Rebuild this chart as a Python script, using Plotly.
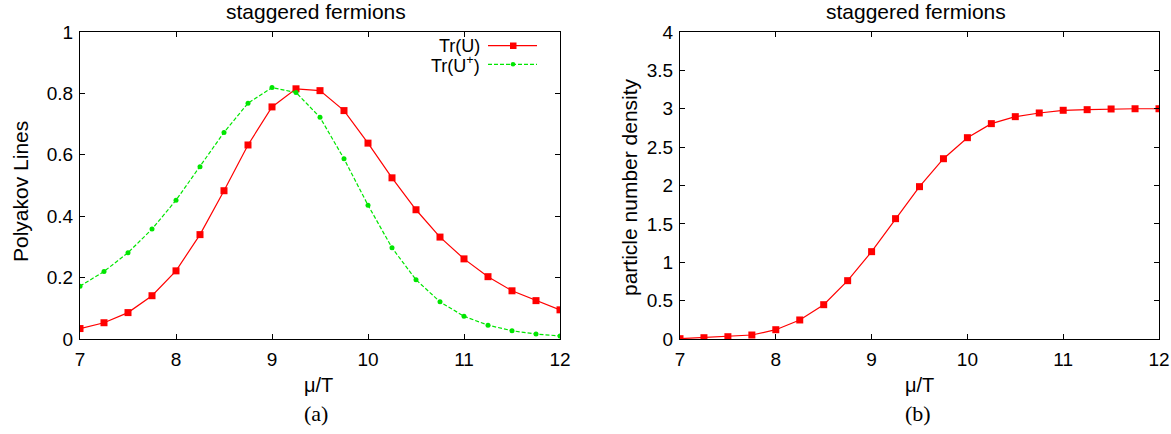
import plotly.graph_objects as go

W, H = 1171, 434

# chemical potential grid
mu_T = [7.0, 7.25, 7.5, 7.75, 8.0, 8.25, 8.5, 8.75, 9.0, 9.25, 9.5,
        9.75, 10.0, 10.25, 10.5, 10.75, 11.0, 11.25, 11.5, 11.75, 12.0]

# Polyakov line expectation values
tr_u = [0.034, 0.053, 0.086, 0.141, 0.222, 0.340, 0.483, 0.632, 0.756, 0.815, 0.809,
        0.744, 0.638, 0.525, 0.421, 0.332, 0.261, 0.203, 0.157, 0.125, 0.095]
tr_u_dag = [0.172, 0.220, 0.281, 0.358, 0.452, 0.561, 0.673, 0.768, 0.819, 0.803, 0.722,
            0.587, 0.436, 0.297, 0.193, 0.121, 0.074, 0.045, 0.027, 0.016, 0.010]

# particle number density
density = [0.004, 0.017, 0.030, 0.052, 0.121, 0.248, 0.447, 0.760, 1.138, 1.568, 1.985,
           2.349, 2.623, 2.806, 2.897, 2.945, 2.980, 2.988, 2.997, 3.000, 3.000]

x_ticks = [7, 8, 9, 10, 11, 12]
y1_ticks = [0, 0.2, 0.4, 0.6, 0.8, 1]
y1_labels = ["0", "0.2", "0.4", "0.6", "0.8", "1"]
y2_ticks = [0, 0.5, 1, 1.5, 2, 2.5, 3, 3.5, 4]
y2_labels = ["0", "0.5", "1", "1.5", "2", "2.5", "3", "3.5", "4"]

RED = "#ff0000"
GREEN = "#00e600"
SANS = "Liberation Sans, Arial, sans-serif"
SERIF = "Liberation Serif, Times New Roman, serif"


def px(x):
    return x / W


def py(y):
    return 1 - y / H


fig = go.Figure()

fig.add_trace(go.Scatter(
    x=mu_T, y=tr_u, mode="lines+markers", name="Tr(U)",
    line=dict(color=RED, width=1.2),
    marker=dict(symbol="square", size=7, color=RED),
    xaxis="x", yaxis="y", showlegend=False))
fig.add_trace(go.Scatter(
    x=mu_T, y=tr_u_dag, mode="lines+markers", name="Tr(U<sup>+</sup>)",
    line=dict(color=GREEN, width=1.2, dash="4px,2px"),
    marker=dict(symbol="circle", size=5, color=GREEN),
    xaxis="x", yaxis="y", showlegend=False))
fig.add_trace(go.Scatter(
    x=mu_T, y=density, mode="lines+markers", name="density",
    line=dict(color=RED, width=1.2),
    marker=dict(symbol="square", size=7, color=RED),
    xaxis="x2", yaxis="y2", showlegend=False))

axis_common = dict(
    showline=True, linecolor="black", linewidth=1.3, mirror="ticks",
    ticks="inside", ticklen=5, tickwidth=1, tickcolor="black",
    showgrid=False, zeroline=False, automargin=False,
    tickfont=dict(family=SANS, size=19, color="black"),
)

fig.update_layout(
    template="none",
    width=W, height=H,
    margin=dict(l=0, r=0, t=0, b=0, autoexpand=False),
    paper_bgcolor="white", plot_bgcolor="white",
    xaxis=dict(domain=[px(80), px(560)], range=[7, 12], tickvals=x_ticks,
               anchor="y", ticklabelstandoff=3, **axis_common),
    yaxis=dict(domain=[py(339), py(32)], range=[0, 1], tickvals=y1_ticks,
               ticktext=y1_labels, anchor="x", ticklabelstandoff=2, **axis_common),
    xaxis2=dict(domain=[px(680), px(1159)], range=[7, 12], tickvals=x_ticks,
                anchor="y2", ticklabelstandoff=3, **axis_common),
    yaxis2=dict(domain=[py(339), py(32)], range=[0, 4], tickvals=y2_ticks,
                ticktext=y2_labels, anchor="x2", ticklabelstandoff=2, **axis_common),
)

annotations = []


def label(text, x, y, size=20, family=SANS, angle=0, xanchor="center"):
    annotations.append(dict(
        text=text, x=px(x), y=py(y), xref="paper", yref="paper",
        showarrow=False, textangle=angle, xanchor=xanchor, yanchor="middle",
        font=dict(family=family, size=size, color="black")))


# panel titles
label("staggered fermions", 316, 12, size=21)
label("staggered fermions", 916, 12, size=21)
# axis titles
label("Polyakov Lines", 20, 192, size=21, angle=-90)
label("particle number density", 630, 187, size=21, angle=-90)
label("μ/T", 318, 385)
label("μ/T", 919, 385)
# panel captions
label("(a)", 316, 413, size=22, family=SERIF)
label("(b)", 918, 413, size=22, family=SERIF)

# key for the left panel
label("Tr(U)", 482, 46, size=18, xanchor="right")
label("Tr(U<sup>+</sup>)", 482, 65, size=18, xanchor="right")
fig.update_layout(annotations=annotations)

shapes = [
    dict(type="line", xref="paper", yref="paper", x0=px(488), x1=px(537),
         y0=py(45.7), y1=py(45.7), line=dict(color=RED, width=1.2)),
    dict(type="rect", xref="paper", yref="paper", x0=px(510), x1=px(516.5),
         y0=py(42.5), y1=py(49), line=dict(width=0), fillcolor=RED),
    dict(type="line", xref="paper", yref="paper", x0=px(488), x1=px(537),
         y0=py(64.3), y1=py(64.3), line=dict(color=GREEN, width=1.2, dash="4px,2px")),
    dict(type="circle", xref="paper", yref="paper", x0=px(510.7), x1=px(515.3),
         y0=py(62), y1=py(66.6), line=dict(width=0), fillcolor=GREEN),
]
fig.update_layout(shapes=shapes)

fig.write_html("out.html")
